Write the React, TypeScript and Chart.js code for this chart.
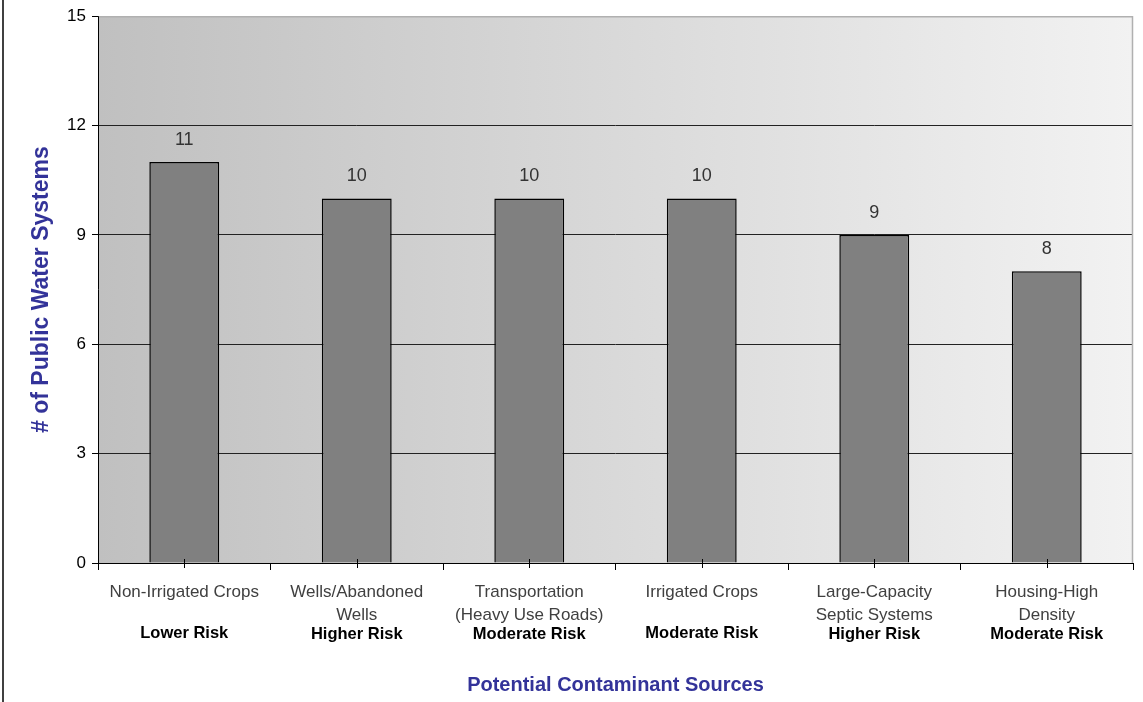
import React, { useEffect, useRef } from "react";
import { Chart, registerables } from "chart.js";

Chart.register(...registerables);

const categories: string[][] = [
  ["Non-Irrigated Crops"],
  ["Wells/Abandoned", "Wells"],
  ["Transportation", "(Heavy Use Roads)"],
  ["Irrigated Crops"],
  ["Large-Capacity", "Septic Systems"],
  ["Housing-High", "Density"],
];
const riskLabels: string[] = [
  "Lower Risk",
  "Higher Risk",
  "Moderate Risk",
  "Moderate Risk",
  "Higher Risk",
  "Moderate Risk",
];
const systemCounts: number[] = [11, 10, 10, 10, 9, 8];
const yTicks: number[] = [0, 3, 6, 9, 12, 15];
const yTitle = "# of Public Water Systems";
const xTitle = "Potential Contaminant Sources";

const FONT = "'Liberation Sans', Arial, sans-serif";

const customPlugin = {
  id: "custom",
  beforeDraw(chart: any) {
    const { ctx, chartArea } = chart;
    const { left, right, top, bottom } = chartArea;
    ctx.save();
    const g = ctx.createLinearGradient(left, 0, right, 0);
    g.addColorStop(0, "#c0c0c0");
    g.addColorStop(1, "#f2f2f2");
    ctx.fillStyle = g;
    ctx.fillRect(left, top, right - left, bottom - top);
    ctx.restore();
  },
  afterDraw(chart: any) {
    const { ctx, chartArea } = chart;
    const { left, right, top, bottom } = chartArea;
    const xs = chart.scales.x;
    ctx.save();
    // top & right plot border (gray)
    ctx.strokeStyle = "#b0b0b0";
    ctx.lineWidth = 1.5;
    ctx.beginPath();
    ctx.moveTo(left, top + 0.5);
    ctx.lineTo(right - 0.5, top + 0.5);
    ctx.lineTo(right - 0.5, bottom);
    ctx.stroke();
    // axes lines
    ctx.strokeStyle = "#000";
    ctx.lineWidth = 1;
    ctx.beginPath();
    ctx.moveTo(left + 0.5, top);
    ctx.lineTo(left + 0.5, bottom);
    ctx.moveTo(left - 5, bottom + 0.5);
    ctx.lineTo(right, bottom + 0.5);
    ctx.stroke();
    // center ticks crossing axis
    ctx.beginPath();
    for (let i = 0; i < categories.length; i++) {
      const x = Math.round(xs.getPixelForValue(i)) + 0.5;
      ctx.moveTo(x, bottom - 4);
      ctx.lineTo(x, bottom + 5);
    }
    ctx.stroke();
    // category labels
    ctx.textAlign = "center";
    ctx.textBaseline = "middle";
    for (let i = 0; i < categories.length; i++) {
      const x = xs.getPixelForValue(i);
      ctx.fillStyle = "#404040";
      ctx.font = `17px ${FONT}`;
      categories[i].forEach((line, j) => {
        ctx.fillText(line, x, bottom + 29 + j * 23);
      });
      ctx.fillStyle = "#000";
      ctx.font = `bold 16.5px ${FONT}`;
      ctx.fillText(riskLabels[i], x, bottom + (categories[i].length > 1 ? 71 : 70));
    }
    // x title
    ctx.fillStyle = "#333399";
    ctx.font = `bold 20px ${FONT}`;
    ctx.fillText(xTitle, (left + right) / 2, 685);
    // y title
    ctx.save();
    ctx.translate(42, (top + bottom) / 2);
    ctx.rotate(-Math.PI / 2);
    ctx.font = `bold 23px ${FONT}`;
    ctx.fillText(yTitle, 0, 0);
    ctx.restore();
    // page left border
    ctx.strokeStyle = "#404040";
    ctx.lineWidth = 2;
    ctx.beginPath();
    ctx.moveTo(3, 0);
    ctx.lineTo(3, chart.height);
    ctx.stroke();
    ctx.restore();
  },
  afterDatasetsDraw(chart: any) {
    const { ctx } = chart;
    const meta = chart.getDatasetMeta(0);
    ctx.save();
    ctx.fillStyle = "#333";
    ctx.font = `18px ${FONT}`;
    ctx.textAlign = "center";
    ctx.textBaseline = "middle";
    meta.data.forEach((bar: any, i: number) => {
      ctx.fillText(String(systemCounts[i]), bar.x, bar.y - 22);
    });
    ctx.restore();
  },
};

export default function App() {
  const ref = useRef<HTMLCanvasElement | null>(null);
  useEffect(() => {
    if (!ref.current) return;
    const chart = new Chart(ref.current, {
      type: "bar",
      data: {
        labels: categories.map((c) => c.join(" ")),
        datasets: [
          {
            data: systemCounts,
            backgroundColor: "#808080",
            borderColor: "#000",
            borderWidth: 1.5,
            categoryPercentage: 1,
            barPercentage: 0.405,
          },
        ],
      },
      options: {
        animation: false,
        responsive: false,
        maintainAspectRatio: false,
        layout: { padding: { left: 0, top: 14, right: 10, bottom: 0 } },
        plugins: {
          legend: { display: false },
          tooltip: { enabled: false },
        },
        scales: {
          x: {
            grid: {
              display: true,
              drawOnChartArea: false,
              drawTicks: true,
              tickLength: 7,
              color: "#000",
              offset: true,
            },
            border: { display: false },
            ticks: { display: false },
            afterFit: (s: any) => {
              s.height = 702 - 563;
            },
          },
          y: {
            min: 0,
            max: 15,
            afterBuildTicks: (s: any) => {
              s.ticks = yTicks.map((v) => ({ value: v }));
            },
            grid: {
              color: (c: any) =>
                c.tick && c.tick.value === 15 ? "rgba(0,0,0,0)" : c.tick && c.tick.value === 0 ? "#000" : "#222",
              tickColor: "#000",
              tickLength: 6,
              lineWidth: 1,
            },
            border: { display: false },
            ticks: {
              color: "#000",
              font: { size: 17, family: FONT },
              padding: 6,
            },
            afterFit: (s: any) => {
              s.width = 98;
            },
          },
        },
      },
      plugins: [customPlugin],
    });
    return () => chart.destroy();
  }, []);
  return (
    <div style={{ position: "fixed", left: 0, top: 0, width: 1143, height: 702, background: "#fff" }}>
      <canvas ref={ref} width={1143} height={702} style={{ width: 1143, height: 702 }} />
    </div>
  );
}
